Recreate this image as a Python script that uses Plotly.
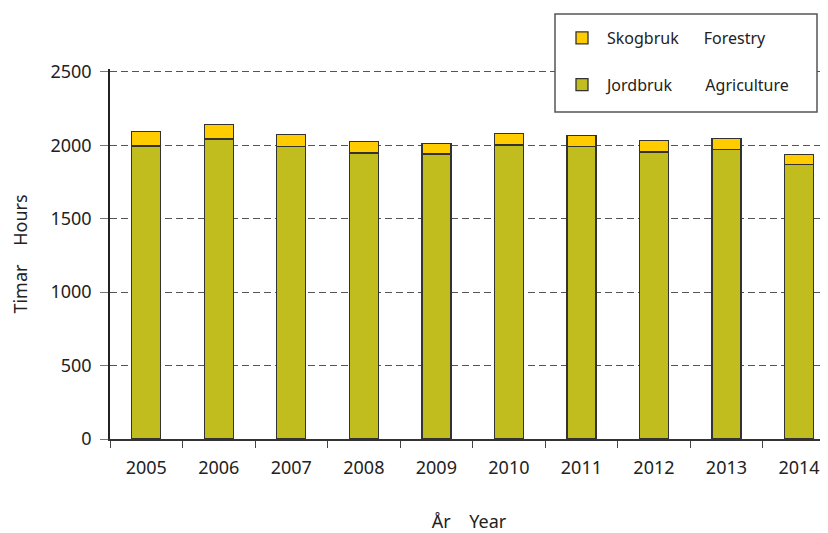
import plotly.graph_objects as go

years = ["2005", "2006", "2007", "2008", "2009", "2010", "2011", "2012", "2013", "2014"]
agriculture = [1995, 2043, 1993, 1948, 1941, 2003, 1991, 1955, 1973, 1869]
forestry = [100, 97, 79, 77, 70, 77, 75, 79, 72, 68]
y_ticks = [0, 500, 1000, 1500, 2000, 2500]

NB = "\u00a0"
# The page body has an 8px margin, so lay out in window pixels minus 8.
O = 8
W, H = 828 - O, 533 - O
YMAX = 2520
L, R = 110 - O, 0
B = H - (439 - O)
T = round((72 - O) - (YMAX - 2500) * (439 - 72) / 2500)
PW, PH = W - L - R, H - T - B


def px(x):
    return (x - O - L) / PW


def py(y):
    return (H - B - (y - O)) / PH


fig = go.Figure()
fig.add_trace(go.Bar(
    x=years, y=agriculture, name="Jordbruk" + NB * 8 + "Agriculture",
    marker=dict(color="#C2BD1E", line=dict(color="#333333", width=1.3)),
    width=0.4, legendgroup="a", legendrank=2,
))
fig.add_trace(go.Bar(
    x=years, y=forestry, name="Skogbruk" + NB * 6 + "Forestry",
    marker=dict(color="#FFCC00", line=dict(color="#333333", width=1.3)),
    width=0.4, legendgroup="b", legendrank=1,
))

font = "Noto Sans"
fig.update_layout(
    width=W, height=H,
    barmode="stack",
    plot_bgcolor="white", paper_bgcolor="white",
    margin=dict(l=L, r=R, t=T, b=B),
    font=dict(family=font, size=16, color="#222222"),
    showlegend=True,
    legend=dict(
        x=px(557), y=py(21), xanchor="left", yanchor="top",
        traceorder="grouped", tracegroupgap=23,
        borderwidth=0, bgcolor="rgba(0,0,0,0)",
        font=dict(size=16, family=font),
        itemwidth=40,
    ),
    shapes=[dict(
        type="rect", xref="paper", yref="paper",
        x0=px(555), x1=px(817), y0=py(112), y1=py(14),
        line=dict(color="#555555", width=1.5), fillcolor="white", layer="above",
    )],
    xaxis=dict(
        type="category", range=[-0.5, 9.4], automargin=False,
        showline=True, linecolor="#333333", linewidth=1.5,
        ticks="outside", tickson="boundaries", ticklen=7, tickcolor="#444444",
        tickfont=dict(size=18, family=font), ticklabelstandoff=12,
        title=dict(text="År" + NB * 4 + "Year", font=dict(size=18, family=font), standoff=40),
        showgrid=False,
    ),
    yaxis=dict(
        range=[0, YMAX], tickvals=y_ticks, automargin=False,
        showline=True, linecolor="#222222", linewidth=1.5,
        ticks="outside", ticklen=8, tickcolor="#777777",
        tickfont=dict(size=18, family=font), ticklabelstandoff=5,
        showgrid=True, gridcolor="#555555", griddash="7px,4px", gridwidth=1.3,
        title=dict(text="Timar" + NB * 4 + "Hours", font=dict(size=18, family=font), standoff=22),
        zeroline=False,
    ),
)

fig.write_html("out.html")
